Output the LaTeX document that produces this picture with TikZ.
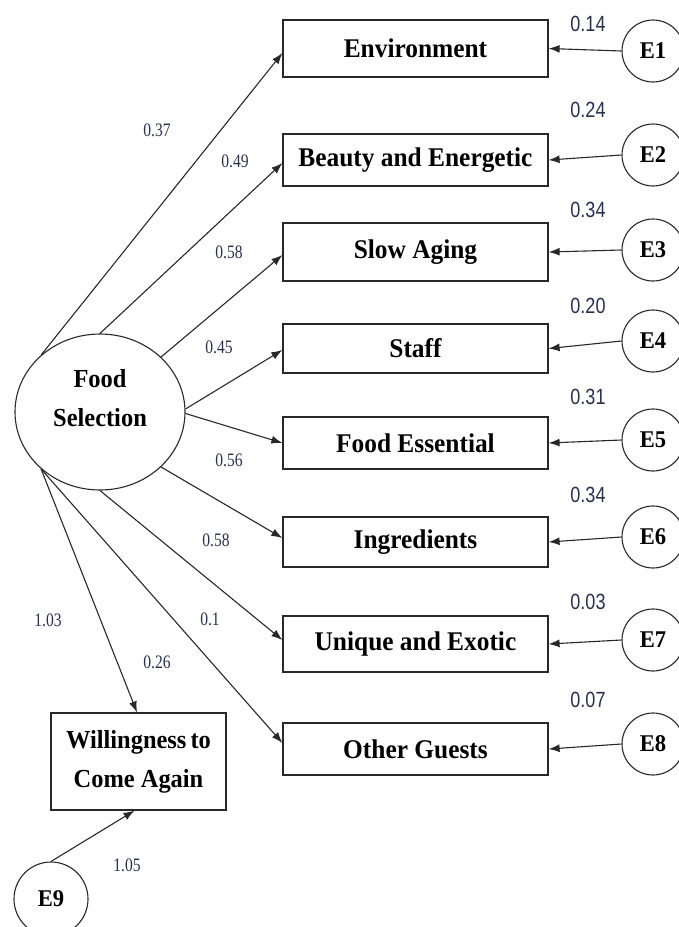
\documentclass[tikz,border=0pt]{standalone}
\usepackage{fontspec}
\setmainfont{Liberation Serif}
\newfontfamily\boxfont[FakeStretch=0.94]{Liberation Serif}
\newfontfamily\coeffont[FakeStretch=0.82]{Liberation Serif}
\newfontfamily\varfont[FakeStretch=0.82]{Liberation Sans}
\usetikzlibrary{arrows.meta,shapes.geometric,calc}

\definecolor{linecol}{RGB}{40,40,40}
\definecolor{numcol}{RGB}{40,48,78}

\tikzset{
  measured/.style={draw=linecol, line width=1.2pt, rectangle, minimum width=265pt,
    inner sep=0pt, font=\boxfont\bfseries\fontsize{27}{30}\selectfont},
  latent/.style={draw=linecol, line width=1.1pt, ellipse, inner sep=0pt},
  errterm/.style={draw=linecol, line width=1.1pt, circle, minimum size=62pt,
    inner sep=0pt, font=\boxfont\bfseries\fontsize{24}{26}\selectfont},
  loading/.style={-{Latex[length=11pt,width=8pt]}, line width=1.1pt, draw=linecol},
  coef/.style={font=\coeffont\fontsize{19}{20}\selectfont, text=numcol, inner sep=0pt},
  evar/.style={font=\varfont\fontsize{22}{22}\selectfont, text=numcol, inner sep=0pt},
}

\begin{document}
\begin{tikzpicture}[x=1pt,y=-1pt]
\useasboundingbox (0,0) rectangle (679,927);
\clip (0,0) rectangle (679,927);

% latent factor
\node[latent, minimum width=170pt, minimum height=156pt] (fs) at (100,412) {};
\node[font=\boxfont\bfseries\fontsize{26}{39}\selectfont, align=center, inner sep=0pt]
  (fslabel) at (100,398) {Food\\Selection};

% indicators
\node[measured, minimum height=57pt] (env)  at (415.5,48.5) {Environment};
\node[measured, minimum height=52pt] (bea)  at (415.5,160)  {Beauty and Energetic};
\node[measured, minimum height=58pt] (slow) at (415.5,252)  {Slow Aging};
\node[measured, minimum height=49pt] (stf)  at (415.5,348.5) {Staff};
\node[measured, minimum height=52pt] (fes)  at (415.5,443)  {Food Essential};
\node[measured, minimum height=50pt] (ing)  at (415.5,542)  {Ingredients};
\node[measured, minimum height=56pt] (uni)  at (415.5,644)  {Unique and Exotic};
\node[measured, minimum height=52pt] (oth)  at (415.5,749)  {Other Guests};

% outcome
\node[measured, minimum width=175pt, minimum height=97pt, align=center,
  font=\boxfont\bfseries\fontsize{26}{39}\selectfont] (will) at (138.5,761.5)
  {Willingness\hspace{-2pt} to\\Come Again};

% error terms
\node[errterm] (e1) at (653,51)  {E1};
\node[errterm] (e2) at (653,155) {E2};
\node[errterm] (e3) at (653,250) {E3};
\node[errterm] (e4) at (653,341) {E4};
\node[errterm] (e5) at (653,440) {E5};
\node[errterm] (e6) at (653,537) {E6};
\node[errterm] (e7) at (653,640) {E7};
\node[errterm] (e8) at (653,744) {E8};
\node[errterm, minimum size=74pt] (e9) at (51,899) {E9};

% factor loadings
\draw[loading] (fs.136.5) -- ($(env.west)+(0,4.5)$);
\draw[loading] (fs.90)    -- ($(bea.west)+(0,3)$);
\draw[loading] (fs.42.6)  -- ($(slow.west)+(0,3)$);
\draw[loading] (fs.2)     -- ($(stf.west)+(0,1.5)$);
\draw[loading] (fs.-1)    -- (fes.west);
\draw[loading] (fs.-42)   -- ($(ing.west)+(0,-4)$);
\draw[loading] (fs.-90)   -- ($(uni.west)+(0,-4)$);
\draw[loading] (fs.-136)  -- ($(oth.west)+(0,-6)$);
\draw[loading] (fs.-136)  -- ($(will.north)+(-1.5,0)$);

% error paths
\draw[loading] (e1.west) -- (env.east);
\draw[loading] (e2.west) -- (bea.east);
\draw[loading] (e3.west) -- (slow.east);
\draw[loading] (e4.west) -- (stf.east);
\draw[loading] (e5.west) -- (fes.east);
\draw[loading] (e6.west) -- (ing.east);
\draw[loading] (e7.west) -- (uni.east);
\draw[loading] (e8.west) -- (oth.east);
\draw[loading] (e9.north) -- ($(will.south)+(-4,0)$);

% loading values
\node[coef] (c1) at (157,130) {0.37};
\node[coef] (c2) at (235,161) {0.49};
\node[coef] (c3) at (229,252) {0.58};
\node[coef] (c4) at (219,347) {0.45};
\node[coef] (c5) at (229,460) {0.56};
\node[coef] (c6) at (216,540) {0.58};
\node[coef] (c7) at (210,619) {0.1};
\node[coef] (c8) at (48,620)  {1.03};
\node[coef] (c9) at (157,662) {0.26};
\node[coef] (c10) at (127,865) {1.05};

% error variances
\node[evar] (v1) at (588,24)  {0.14};
\node[evar] (v2) at (588,110) {0.24};
\node[evar] (v3) at (588,210) {0.34};
\node[evar] (v4) at (588,306) {0.20};
\node[evar] (v5) at (588,397) {0.31};
\node[evar] (v6) at (588,495) {0.34};
\node[evar] (v7) at (588,602) {0.03};
\node[evar] (v8) at (588,700) {0.07};
\end{tikzpicture}
\end{document}
